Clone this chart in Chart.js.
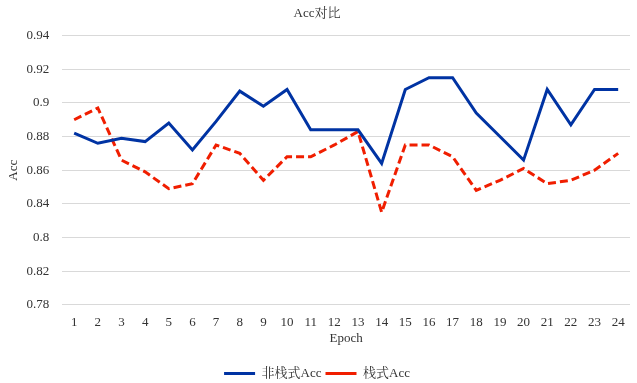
<!DOCTYPE html>
<html>
<head>
<meta charset="utf-8">
<script src="https://cdn.jsdelivr.net/npm/chart.js@4/dist/chart.umd.min.js"></script>
<style>
    html, body { margin: 0; padding: 0; background: #fff; }
    #wrap { width: 637px; height: 383px; position: relative; }
</style>
</head>
<body>
<div id="wrap"><canvas id="chart"></canvas></div>
<script>
const epochs = ['1','2','3','4','5','6','7','8','9','10','11','12','13','14','15','16','17','18','19','20','21','22','23','24'];
const nonStackAcc = [0.882, 0.876, 0.879, 0.877, 0.888, 0.872, 0.889, 0.907, 0.898, 0.908, 0.884, 0.884,
                     0.884, 0.864, 0.908, 0.915, 0.915, 0.894, 0.880, 0.866, 0.908, 0.887, 0.908, 0.908];
const stackAcc = [0.890, 0.897, 0.866, 0.859, 0.849, 0.852, 0.875, 0.870, 0.854, 0.868, 0.868, 0.875,
                  0.883, 0.835, 0.875, 0.875, 0.868, 0.848, 0.854, 0.861, 0.852, 0.854, 0.860, 0.870];
// tick labels exactly as printed on the reference axis (bottom to top)
const yTickLabels = ['0.78', '0.82', '0.8', '0.84', '0.86', '0.88', '0.9', '0.92', '0.94'];

const FONT = "'Liberation Serif', 'Noto Serif CJK SC', 'Noto Sans CJK SC', serif";

new Chart(document.getElementById('chart'), {
    type: 'line',
    data: {
        labels: epochs,
        datasets: [
            {
                label: '非栈式Acc',
                data: nonStackAcc,
                borderColor: '#0033a3',
                backgroundColor: '#0033a3',
                borderWidth: 3,
                pointRadius: 0,
                tension: 0
            },
            {
                label: '栈式Acc',
                data: stackAcc,
                borderColor: '#f01e00',
                backgroundColor: '#f01e00',
                borderWidth: 3,
                borderDash: [8, 4],
                pointRadius: 0,
                tension: 0
            }
        ]
    },
    options: {
        responsive: true, maintainAspectRatio: false, animation: false,
        layout: { padding: { left: 4, right: 7, top: 2, bottom: -7 } },
        plugins: {
            title: {
                display: true, text: 'Acc对比', color: '#333',
                font: { family: FONT, size: 13, weight: 'normal' },
                padding: { top: 4, bottom: 14 }
            },
            legend: {
                position: 'bottom',
                labels: {
                    usePointStyle: true, pointStyle: 'line', pointStyleWidth: 31,
                    color: '#333', padding: 4,
                    font: { family: FONT, size: 13 }
                }
            },
            tooltip: { enabled: false }
        },
        scales: {
            x: {
                offset: true,
                grid: { display: false, drawTicks: false },
                border: { display: false },
                ticks: { color: '#333', font: { family: FONT, size: 13 }, maxRotation: 0, autoSkip: false, padding: 10 },
                title: { display: true, text: 'Epoch', color: '#333', font: { family: FONT, size: 13 }, padding: { top: -10, bottom: 17 } }
            },
            y: {
                min: 0.78, max: 0.94,
                grid: { color: '#d9d9d9', lineWidth: 1, drawTicks: false },
                border: { display: false },
                ticks: {
                    stepSize: 0.02, color: '#333', padding: 13,
                    font: { family: FONT, size: 13 },
                    callback: (v, i) => yTickLabels[i]
                },
                title: { display: true, text: 'Acc', color: '#333', font: { family: FONT, size: 13 }, padding: { top: 2, bottom: -8 } }
            }
        }
    }
});
</script>
</body>
</html>
